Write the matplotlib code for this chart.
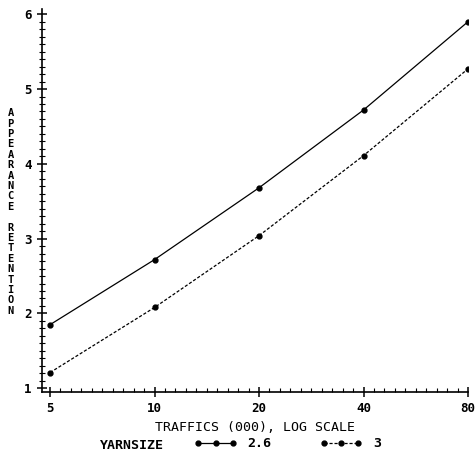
import numpy as np
import matplotlib
matplotlib.use('Agg')
import matplotlib.pyplot as plt
from matplotlib.ticker import FixedLocator, NullFormatter

# traffic counts (thousands) and appearance retention per yarn size
traffics = [5, 10, 20, 40, 80]
retention_26 = [1.85, 2.72, 3.68, 4.72, 5.90]
retention_3 = [1.21, 2.08, 3.04, 4.11, 5.27]
tick_labels = ['5', '10', '20', '40', '80']
yarn_sizes = ['2.6', '3']

plt.rcParams['font.family'] = 'DejaVu Sans Mono'
plt.rcParams['font.weight'] = 'bold'

fig = plt.figure(figsize=(4.77, 4.59), dpi=100, facecolor='white')
ax = fig.add_axes([42 / 477, (459 - 392) / 459, 426 / 477, 383 / 459])

ax.plot(traffics, retention_26, color='black', linewidth=0.9,
        marker='o', markersize=3.5, label=yarn_sizes[0])
ax.plot(traffics, retention_3, color='black', linewidth=0.9,
        linestyle=(0, (2.5, 1.5)), marker='o', markersize=3.5,
        label=yarn_sizes[1])

ax.set_xscale('log', base=2)
ax.set_xlim(4.74, 80)
ax.set_ylim(0.95, 6.07)

# major ticks at each doubling, ten minor ticks per doubling
ax.xaxis.set_major_locator(FixedLocator(traffics))
ax.set_xticklabels(tick_labels)
minor_x = [5 * 2 ** (k / 10) for k in range(41)]
ax.xaxis.set_minor_locator(FixedLocator(minor_x))
ax.xaxis.set_minor_formatter(NullFormatter())

ax.set_yticks([1, 2, 3, 4, 5, 6])
ax.yaxis.set_minor_locator(FixedLocator(np.arange(1, 6.01, 0.1)))

ax.tick_params(which='major', direction='inout', length=7, width=1.1,
               labelsize=9, pad=4)
ax.tick_params(which='minor', direction='inout', length=4, width=0.8)
ax.tick_params(axis='x', which='minor', direction='in', length=3)

for side in ['top', 'right']:
    ax.spines[side].set_visible(False)
for side in ['left', 'bottom']:
    ax.spines[side].set_linewidth(1.2)

ax.set_xlabel('TRAFFICS (000), LOG SCALE', fontsize=9.5, labelpad=4)

# stacked vertical y label
ylabel = '\n'.join('APPEARANCE RETENTION')
fig.text(0.022, 0.538, ylabel, fontsize=7.5, ha='center', va='center',
         linespacing=1.05)

fig.text(0.21, 0.03, 'YARNSIZE', fontsize=9.5, ha='left', va='center')
ax.legend(loc='center left', bbox_to_anchor=(0.33, -0.135), ncol=2,
          frameon=False, numpoints=3, fontsize=9.5, handlelength=3.2,
          columnspacing=3.7, handletextpad=0.8)

fig.savefig('out.png', dpi=100, facecolor='white')
